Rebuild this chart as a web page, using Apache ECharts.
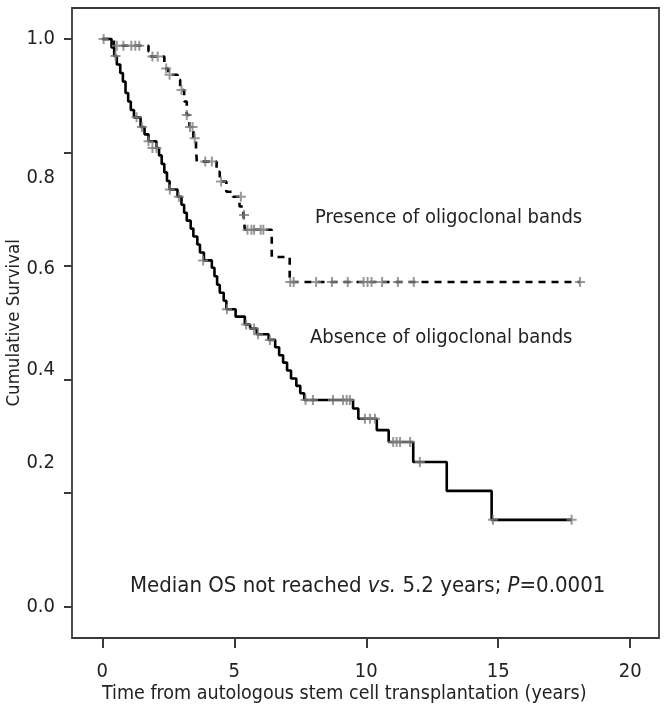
<!DOCTYPE html>
<html><head><meta charset="utf-8">
<script src="https://cdn.jsdelivr.net/npm/echarts@6/dist/echarts.min.js"></script>
<style>html,body{margin:0;padding:0;background:#fff}#c{width:666px;height:711px}</style>
</head><body><div id="c"></div>
<script>
// Absence of oligoclonal bands (solid): event times (years) and survival after each step
const absTime = [0, 0.35, 0.45, 0.55, 0.68, 0.78, 0.88, 0.98, 1.08, 1.2, 1.45, 1.6, 1.75, 2.05, 2.15, 2.25, 2.35, 2.45, 2.55, 2.85, 3.0, 3.1, 3.2, 3.35, 3.45, 3.6, 3.7, 3.85, 4.15, 4.25, 4.35, 4.45, 4.6, 4.7, 5.05, 5.4, 5.6, 5.85, 6.3, 6.55, 6.7, 6.85, 7.0, 7.15, 7.35, 7.5, 7.65, 9.5, 9.7, 10.4, 10.85, 11.78, 13.05, 14.75, 17.78];
const absSurv = [1.0, 0.985, 0.970, 0.955, 0.940, 0.925, 0.905, 0.890, 0.875, 0.862, 0.845, 0.832, 0.820, 0.808, 0.795, 0.780, 0.765, 0.750, 0.735, 0.722, 0.708, 0.694, 0.680, 0.666, 0.652, 0.638, 0.624, 0.610, 0.597, 0.582, 0.567, 0.553, 0.539, 0.524, 0.511, 0.497, 0.490, 0.480, 0.470, 0.457, 0.443, 0.430, 0.416, 0.402, 0.389, 0.376, 0.364, 0.349, 0.331, 0.311, 0.290, 0.255, 0.204, 0.153, 0.153];
// Absence censor marks
const absCensTime = [0.05, 0.5, 1.3, 1.5, 1.75, 1.9, 2.05, 2.56, 2.9, 3.82, 4.72, 5.45, 5.75, 5.9, 6.35, 7.7, 7.98, 8.74, 9.12, 9.26, 9.38, 9.95, 10.14, 10.33, 11.02, 11.15, 11.28, 11.66, 12.03, 14.8, 17.78];
const absCensSurv = [1.0, 0.970, 0.862, 0.845, 0.820, 0.808, 0.808, 0.735, 0.722, 0.610, 0.524, 0.497, 0.490, 0.480, 0.470, 0.364, 0.364, 0.364, 0.364, 0.364, 0.364, 0.331, 0.331, 0.331, 0.290, 0.290, 0.290, 0.290, 0.255, 0.153, 0.153];

// Presence of oligoclonal bands (dashed)
const preTime = [0, 0.44, 1.75, 1.85, 2.35, 2.4, 2.5, 2.85, 2.95, 3.1, 3.2, 3.3, 3.45, 3.55, 3.58, 4.33, 4.45, 4.7, 4.95, 5.2, 5.35, 5.4, 6.42, 7.1, 18.1];
const preSurv = [1.0, 0.988, 0.978, 0.969, 0.958, 0.948, 0.937, 0.928, 0.910, 0.890, 0.866, 0.845, 0.825, 0.807, 0.784, 0.766, 0.749, 0.731, 0.722, 0.705, 0.690, 0.664, 0.616, 0.572, 0.572];
const preCensTime = [0.55, 0.8, 1.1, 1.25, 1.4, 1.9, 2.1, 2.42, 2.55, 3.0, 3.2, 3.32, 3.42, 3.5, 3.9, 4.15, 4.5, 5.25, 5.37, 5.5, 5.65, 5.75, 6.0, 6.1, 7.12, 7.25, 8.1, 8.7, 9.3, 9.9, 10.05, 10.2, 10.6, 11.2, 11.8, 18.1];
const preCensSurv = [0.988, 0.988, 0.988, 0.988, 0.988, 0.969, 0.969, 0.948, 0.937, 0.910, 0.866, 0.845, 0.845, 0.825, 0.784, 0.784, 0.749, 0.722, 0.690, 0.664, 0.664, 0.664, 0.664, 0.664, 0.572, 0.572, 0.572, 0.572, 0.572, 0.572, 0.572, 0.572, 0.572, 0.572, 0.572, 0.572];

const xMin = 0, xMax = 20, xStep = 5;
const yMin = 0, yMax = 1, yStep = 0.2;
// y tick labels as printed in the source figure (their printed heights, in axis units)
const yTickLabels = ['0.0', '0.2', '0.4', '0.6', '0.8', '1.0'];
const yLabelPos = [0, 0.253, 0.417, 0.595, 0.755, 1.0];

const labelPresence = 'Presence of oligoclonal bands';
const labelAbsence = 'Absence of oligoclonal bands';
const footNote = 'Median OS not reached ';
const xTitle = 'Time from autologous stem cell transplantation (years)';
const yTitle = 'Cumulative Survival';

const FONT = "'Liberation Sans Narrow', 'Arial Narrow', 'DejaVu Sans Condensed', 'Roboto Condensed', 'Liberation Sans', sans-serif";
const zip = (a, b) => a.map((v, i) => [v, b[i]]);
const PLUS = 'path://M4,0 L6,0 L6,4 L10,4 L10,6 L6,6 L6,10 L4,10 L4,6 L0,6 L0,4 L4,4 Z';
const yLabelFor = v => {
  let best = 0;
  yLabelPos.forEach((p, i) => { if (Math.abs(p - v) < Math.abs(yLabelPos[best] - v)) best = i; });
  return yTickLabels[best];
};
const AXC = '#3a3a3a';
const G = {containLabel: false, outerBoundsMode: 'none'};
const bare = {axisLine: {show: false, onZero: false}, axisTick: {show: false}, axisLabel: {show: false}};

const chart = echarts.init(document.getElementById('c'), null, {renderer: 'canvas'});
chart.setOption({
  animation: false,
  backgroundColor: '#ffffff',
  grid: [
    // 0: frame box
    Object.assign({left: 72, right: 7, top: 8, bottom: 73, show: true, borderColor: AXC, borderWidth: 1.8, backgroundColor: 'transparent'}, G),
    // 1: data area (0..20 years, 0..1 survival)
    Object.assign({left: 102.3, right: 35.8, top: 39, bottom: 104.3, show: false}, G),
    // 2: strip under the frame carrying the x tick marks
    Object.assign({left: 102.3, right: 35.8, top: 638, bottom: 63, show: false}, G),
    // 3: strip left of the frame carrying the y tick marks
    Object.assign({left: 64, right: 594, top: 39, bottom: 104.3, show: false}, G)
  ],
  xAxis: [
    {type: 'value', gridIndex: 0, min: 0, max: 1, show: false},
    Object.assign({
      type: 'value', gridIndex: 1, min: xMin, max: xMax, interval: xStep, offset: 31.3,
      splitLine: {show: false},
      axisLabel: {show: true, margin: 24, color: '#222', fontSize: 20, fontFamily: FONT},
      name: xTitle, nameLocation: 'middle', nameGap: 46, nameMoveOverlap: false,
      nameTextStyle: {color: '#222', fontSize: 19.5, fontFamily: FONT, padding: [0, 44, 0, 0]}
    }, {axisLine: {show: false, onZero: false}, axisTick: {show: false}}),
    Object.assign({type: 'value', gridIndex: 2, min: xMin, max: xMax, interval: xStep,
      splitLine: {show: true, lineStyle: {color: AXC, width: 2}}}, bare),
    Object.assign({type: 'value', gridIndex: 3, min: 0, max: 1, splitLine: {show: false}}, bare)
  ],
  yAxis: [
    {type: 'value', gridIndex: 0, min: 0, max: 1, show: false},
    Object.assign({
      type: 'value', gridIndex: 1, min: yMin, max: yMax, interval: yStep, offset: 30.3,
      splitLine: {show: false},
      axisLabel: {show: true, customValues: yLabelPos, margin: 17, color: '#222', fontSize: 20, fontFamily: FONT,
        formatter: v => yLabelFor(v)},
      name: yTitle, nameLocation: 'middle', nameGap: 48, nameRotate: 90, nameMoveOverlap: false,
      nameTextStyle: {color: '#222', fontSize: 18.5, fontFamily: FONT}
    }, {axisLine: {show: false, onZero: false}, axisTick: {show: false}}),
    Object.assign({type: 'value', gridIndex: 2, min: 0, max: 1, splitLine: {show: false}}, bare),
    Object.assign({type: 'value', gridIndex: 3, min: yMin, max: yMax, interval: yStep,
      splitLine: {show: true, lineStyle: {color: AXC, width: 2}}}, bare)
  ],
  series: [
    {type: 'line', xAxisIndex: 1, yAxisIndex: 1, step: 'end', data: zip(absTime, absSurv), symbol: 'none', clip: false,
      lineStyle: {color: '#000', width: 2.6}, z: 3},
    {type: 'line', xAxisIndex: 1, yAxisIndex: 1, step: 'end', data: zip(preTime, preSurv), symbol: 'none', clip: false,
      lineStyle: {color: '#000', width: 2.6, type: [7, 6]}, z: 3},
    {type: 'scatter', xAxisIndex: 1, yAxisIndex: 1, data: zip(absCensTime, absCensSurv), symbol: PLUS, symbolSize: 10, clip: false,
      itemStyle: {color: '#7f7f7f'}, z: 5},
    {type: 'scatter', xAxisIndex: 1, yAxisIndex: 1, data: zip(preCensTime, preCensSurv), symbol: PLUS, symbolSize: 10, clip: false,
      itemStyle: {color: '#7f7f7f'}, z: 5}
  ],
  graphic: [
    {type: 'text', left: 315, top: 208, style: {text: labelPresence, fill: '#222', font: '20px ' + FONT}},
    {type: 'text', left: 310, top: 328, style: {text: labelAbsence, fill: '#222', font: '20px ' + FONT}},
    {type: 'text', left: 130, top: 575, style: {
      text: '{n|' + footNote + '}{i|vs.}{n| 5.2 years; }{i|P}{n|=0.0001}',
      rich: {
        n: {fill: '#222', fontSize: 22, fontFamily: FONT},
        i: {fill: '#222', fontSize: 22, fontFamily: FONT, fontStyle: 'italic'}
      }}}
  ]
});
</script></body></html>
